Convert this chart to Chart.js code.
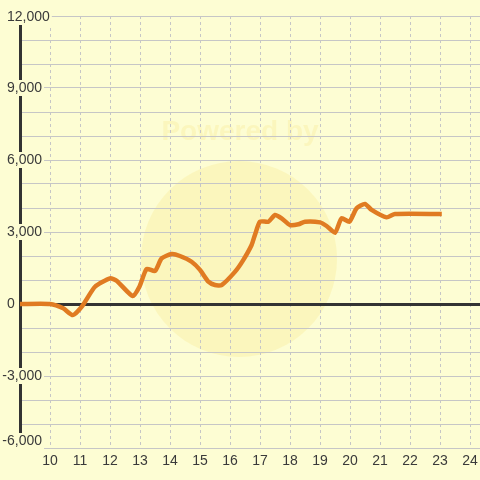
<!DOCTYPE html>
<html lang="en">
<head>
    <meta charset="UTF-8">
    <title>Intraday P/L</title>
    <script src="https://cdn.jsdelivr.net/npm/chart.js"></script>
    <style>
        body { margin: 0; background: #fdfdd3; }
        #plChart { display: block; }
    </style>
</head>
<body>
    <canvas id="plChart" width="480" height="480"></canvas>

    <script>
        // data (hour of day, value)
        const hours = [9, 10, 10.44, 10.76, 11.06, 11.5, 12.0, 12.22, 12.76, 12.98, 13.22, 13.5, 13.72,
            14.06, 14.33, 14.72, 15.0, 15.28, 15.5, 15.72, 16.17, 16.44, 16.72, 16.83, 17.0, 17.28,
            17.5, 17.72, 18.0, 18.28, 18.5, 19.0, 19.22, 19.5, 19.72, 19.98, 20.22, 20.5, 20.72,
            21.22, 21.5, 23.06];
        const values = [0, 0, -180, -460, -110, 720, 1070, 970, 330, 720, 1460, 1375, 1900,
            2080, 2000, 1760, 1420, 930, 790, 790, 1350, 1830, 2460, 2875, 3430, 3430,
            3710, 3570, 3290, 3320, 3430, 3400, 3250, 2970, 3570, 3430, 3990, 4170, 3920,
            3610, 3750, 3750];

        const xTicks = [10, 11, 12, 13, 14, 15, 16, 17, 18, 19, 20, 21, 22, 23, 24];
        const yGrid = [-6000, -5000, -4000, -3000, -2000, -1000, 0, 1000, 2000, 3000, 4000,
            5000, 6000, 7000, 8000, 9000, 10000, 11000, 12000];
        const yLabels = [12000, 9000, 6000, 3000, 0, -3000, -6000];

        const bg = '#fdfdd3';
        const textColor = '#3a3a3a';
        const labelFont = '14px "Liberation Sans", Arial, sans-serif';

        // background + faint watermark
        const backdrop = {
            id: 'backdrop',
            beforeDraw(chart) {
                const c = chart.ctx;
                c.save();
                c.fillStyle = bg;
                c.fillRect(0, 0, chart.width, chart.height);
                c.fillStyle = 'rgba(250, 232, 140, 0.3)';
                c.beginPath();
                c.arc(239, 259, 98, 0, Math.PI * 2);
                c.fill();
                c.font = 'bold 28px "Liberation Sans", Arial, sans-serif';
                c.fillStyle = 'rgba(250, 232, 140, 0.3)';
                c.textAlign = 'center';
                c.textBaseline = 'middle';
                c.fillText('Powered by', 240, 132);
                c.restore();
            }
        };

        // tick labels drawn at scale positions
        const tickText = {
            id: 'tickText',
            afterDraw(chart) {
                const c = chart.ctx;
                const xs = chart.scales.x, ys = chart.scales.y;
                c.save();
                c.font = labelFont;
                c.textBaseline = 'middle';
                yLabels.forEach(v => {
                    const txt = v.toLocaleString('en-US');
                    const w = c.measureText(txt).width;
                    let x = 7 - (v < 0 ? c.measureText('-').width : 0);
                    let y = Math.min(ys.getPixelForValue(v), 441);
                    y = Math.max(y, 17);
                    c.fillStyle = bg;
                    c.fillRect(x - 1, y - 8, w + 3, 16);
                    c.fillStyle = textColor;
                    c.textAlign = 'left';
                    c.fillText(txt, x, y);
                });
                c.textAlign = 'center';
                xTicks.forEach(v => {
                    c.fillStyle = textColor;
                    c.fillText(String(v), xs.getPixelForValue(v), 461);
                });
                c.restore();
            }
        };

        const ctx = document.getElementById('plChart').getContext('2d');
        new Chart(ctx, {
            type: 'line',
            data: {
                datasets: [{
                    data: hours.map((h, i) => ({ x: h, y: values[i] })),
                    borderColor: '#e07b22',
                    borderWidth: 4.5,
                    pointRadius: 0,
                    tension: 0.2,
                    borderJoinStyle: 'round',
                    borderCapStyle: 'butt',
                    fill: false
                }]
            },
            options: {
                responsive: false,
                animation: false,
                devicePixelRatio: 1,
                layout: { padding: { left: 20, top: 16, right: 0, bottom: 32 } },
                plugins: { legend: { display: false }, tooltip: { enabled: false } },
                scales: {
                    x: {
                        type: 'linear',
                        min: 9,
                        max: 24.333,
                        afterBuildTicks: s => { s.ticks = xTicks.map(v => ({ value: v })); },
                        ticks: { display: false },
                        grid: { color: '#c6c6c6', lineWidth: 1, drawTicks: false, tickLength: 0 },
                        border: { display: false, dash: [3, 3] }
                    },
                    y: {
                        min: -6000,
                        max: 12000,
                        afterBuildTicks: s => { s.ticks = yGrid.map(v => ({ value: v })); },
                        ticks: { display: false },
                        grid: {
                            drawTicks: false,
                            tickLength: 0,
                            color: c => c.tick && c.tick.value === 0 ? '#333333' : '#c6c6c6',
                            lineWidth: c => c.tick && c.tick.value === 0 ? 3 : 1
                        },
                        border: { display: true, color: '#333333', width: 3 }
                    }
                }
            },
            plugins: [backdrop, tickText]
        });
    </script>
</body>
</html>
